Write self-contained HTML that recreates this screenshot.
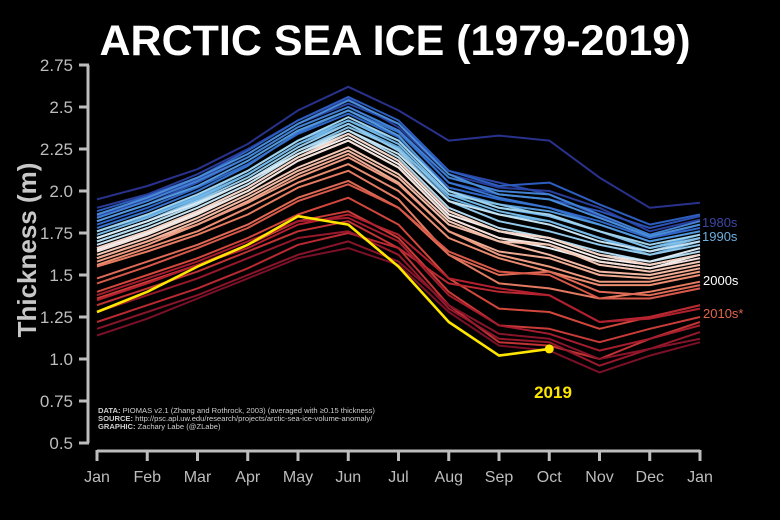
<!DOCTYPE html>
<html><head><meta charset="utf-8"><style>
html,body{margin:0;padding:0;background:#000;width:780px;height:520px;overflow:hidden}
svg{display:block}
text{font-family:"Liberation Sans",sans-serif}
</style></head><body>
<svg id="chart" width="780" height="520" viewBox="0 0 780 520">
<rect width="780" height="520" fill="#000"/>
<text x="395" y="55" text-anchor="middle" fill="#fff" font-size="43" font-weight="bold">ARCTIC SEA ICE (1979-2019)</text>
<text transform="translate(36,250) rotate(-90)" text-anchor="middle" fill="#c8c8c8" font-size="26" font-weight="bold">Thickness (m)</text>
<g id="yaxis"></g>
<g id="xaxis"></g>
<g id="lines"></g>
<g font-size="7.6" fill="#cfcfcf">
<text x="98" y="413"><tspan font-weight="bold">DATA:</tspan> PIOMAS v2.1 (Zhang and Rothrock, 2003) (averaged with ≥0.15 thickness)</text>
<text x="98" y="421"><tspan font-weight="bold">SOURCE:</tspan> http://psc.apl.uw.edu/research/projects/arctic-sea-ice-volume-anomaly/</text>
<text x="98" y="429"><tspan font-weight="bold">GRAPHIC:</tspan> Zachary Labe (@ZLabe)</text>
</g>
<g font-size="13">
<text x="702" y="227" fill="#3d47a3">1980s</text>
<text x="702" y="241" fill="#6ab0e0">1990s</text>
<text x="703" y="285" fill="#ffffff">2000s</text>
<text x="703" y="318" fill="#e2654c">2010s*</text>
</g>
<text x="553" y="398" text-anchor="middle" fill="#ffe600" font-size="17" font-weight="bold">2019</text>
</svg>
<script>
const monthLabels=["Jan","Feb","Mar","Apr","May","Jun","Jul","Aug","Sep","Oct","Nov","Dec","Jan"];
const yTickLabels=["0.5","0.75","1.0","1.25","1.5","1.75","2.0","2.25","2.5","2.75"];
const yTickValues=[0.5,0.75,1.0,1.25,1.5,1.75,2.0,2.25,2.5,2.75];
const years=[1979,1980,1981,1982,1983,1984,1985,1986,1987,1988,1989,1990,1991,1992,1993,1994,1995,1996,1997,1998,1999,2000,2001,2002,2003,2004,2005,2006,2007,2008,2009,2010,2011,2012,2013,2014,2015,2016,2017,2018,2019];
const thickness=[
[1.95,2.03,2.13,2.28,2.48,2.62,2.48,2.30,2.33,2.30,2.08,1.90,1.93],
[1.90,1.98,2.10,2.25,2.42,2.55,2.38,2.10,2.02,2.00,1.90,1.76,1.83],
[1.85,1.95,2.07,2.22,2.40,2.52,2.40,2.12,2.05,1.98,1.85,1.72,1.80],
[1.82,1.92,2.05,2.20,2.38,2.50,2.36,2.05,1.98,1.95,1.88,1.78,1.85],
[1.88,1.97,2.08,2.24,2.42,2.56,2.42,2.12,2.03,2.05,1.92,1.80,1.86],
[1.80,1.90,2.02,2.16,2.34,2.46,2.32,2.02,1.95,1.90,1.82,1.72,1.78],
[1.78,1.88,2.00,2.15,2.35,2.48,2.35,2.05,1.96,1.90,1.80,1.70,1.76],
[1.84,1.94,2.06,2.20,2.38,2.50,2.36,2.08,2.00,1.98,1.86,1.74,1.82],
[1.86,1.96,2.08,2.22,2.40,2.54,2.40,2.10,1.98,1.95,1.84,1.73,1.80],
[1.82,1.92,2.03,2.18,2.36,2.48,2.33,2.00,1.92,1.88,1.80,1.70,1.76],
[1.76,1.85,1.97,2.12,2.30,2.42,2.30,2.00,1.90,1.85,1.76,1.66,1.74],
[1.72,1.82,1.95,2.10,2.28,2.40,2.26,1.96,1.86,1.82,1.72,1.62,1.70],
[1.74,1.84,1.96,2.10,2.28,2.42,2.28,1.98,1.88,1.82,1.72,1.64,1.72],
[1.70,1.80,1.92,2.06,2.24,2.38,2.25,1.98,1.92,1.85,1.76,1.66,1.72],
[1.72,1.82,1.94,2.08,2.26,2.40,2.24,1.94,1.82,1.76,1.68,1.62,1.68],
[1.76,1.86,1.98,2.12,2.30,2.44,2.30,2.00,1.90,1.86,1.76,1.68,1.74],
[1.70,1.80,1.92,2.06,2.24,2.36,2.20,1.90,1.78,1.72,1.64,1.58,1.64],
[1.68,1.78,1.90,2.04,2.22,2.36,2.22,1.94,1.86,1.80,1.70,1.64,1.70],
[1.72,1.82,1.93,2.06,2.22,2.34,2.18,1.88,1.76,1.72,1.62,1.58,1.66],
[1.65,1.75,1.87,2.00,2.18,2.30,2.14,1.84,1.72,1.66,1.58,1.54,1.62],
[1.66,1.76,1.88,2.02,2.20,2.32,2.16,1.86,1.76,1.70,1.60,1.56,1.62],
[1.64,1.74,1.86,2.00,2.18,2.30,2.14,1.84,1.72,1.68,1.58,1.54,1.60],
[1.66,1.76,1.88,2.02,2.20,2.34,2.18,1.88,1.76,1.72,1.62,1.56,1.62],
[1.62,1.72,1.84,1.98,2.14,2.26,2.10,1.82,1.70,1.68,1.56,1.52,1.58],
[1.60,1.70,1.82,1.96,2.12,2.24,2.08,1.80,1.70,1.62,1.52,1.50,1.56],
[1.60,1.70,1.80,1.94,2.10,2.22,2.05,1.76,1.64,1.60,1.50,1.48,1.54],
[1.58,1.68,1.80,1.93,2.08,2.20,2.04,1.76,1.62,1.55,1.46,1.46,1.52],
[1.56,1.66,1.76,1.90,2.05,2.16,2.00,1.72,1.60,1.52,1.44,1.44,1.50],
[1.55,1.64,1.74,1.86,2.02,2.12,1.95,1.62,1.45,1.42,1.36,1.40,1.46],
[1.48,1.58,1.68,1.80,1.96,2.06,1.90,1.62,1.50,1.52,1.40,1.38,1.44],
[1.45,1.55,1.66,1.78,1.94,2.04,1.90,1.64,1.52,1.50,1.36,1.36,1.42],
[1.40,1.50,1.60,1.72,1.86,1.96,1.80,1.48,1.30,1.28,1.18,1.25,1.32],
[1.36,1.46,1.56,1.68,1.82,1.88,1.72,1.40,1.20,1.18,1.10,1.18,1.25],
[1.32,1.42,1.52,1.64,1.76,1.82,1.66,1.32,1.10,1.08,1.00,1.12,1.22],
[1.22,1.32,1.42,1.54,1.68,1.75,1.66,1.45,1.40,1.38,1.22,1.25,1.32],
[1.35,1.45,1.56,1.66,1.80,1.86,1.74,1.48,1.42,1.38,1.22,1.24,1.30],
[1.38,1.48,1.58,1.70,1.82,1.84,1.70,1.38,1.20,1.15,1.05,1.12,1.20],
[1.28,1.38,1.48,1.60,1.72,1.76,1.62,1.30,1.12,1.10,0.96,1.06,1.16],
[1.18,1.28,1.38,1.50,1.62,1.70,1.58,1.32,1.15,1.12,1.00,1.06,1.12],
[1.14,1.24,1.36,1.48,1.60,1.66,1.56,1.28,1.08,1.05,0.92,1.02,1.10],
[1.28,1.40,1.55,1.68,1.85,1.80,1.55,1.22,1.02,1.06]
];
const NS="http://www.w3.org/2000/svg";
const X0=97,X1=700,Y0=443,Y1=65,VMIN=0.5,VMAX=2.75;
function xs(m){return X0+(X1-X0)*m/12;}
function ys(v){return Y0-(Y0-Y1)*(v-VMIN)/(VMAX-VMIN);}
function mk(tag,attrs,parent){const e=document.createElementNS(NS,tag);for(const k in attrs)e.setAttribute(k,attrs[k]);parent.appendChild(e);return e;}
const stops=[[0,[40,50,140]],[0.12,[45,100,200]],[0.27,[95,170,225]],[0.4,[170,215,238]],[0.5,[245,245,245]],[0.6,[244,194,174]],[0.7,[232,135,106]],[0.8,[208,68,58]],[0.9,[176,31,46]],[1,[122,16,40]]];
function col(t){for(let i=1;i<stops.length;i++){if(t<=stops[i][0]){const a=stops[i-1],b=stops[i],f=(t-a[0])/(b[0]-a[0]);const c=a[1].map((v,j)=>Math.round(v+(b[1][j]-v)*f));return `rgb(${c.join(',')})`;}}return 'rgb(122,16,40)';}
const ya=document.getElementById('yaxis');
const sp=mk('line',{x1:88,y1:Y1,x2:88,y2:Y0,stroke:'#bdbdbd','stroke-width':3},ya);


yTickValues.forEach((v,i)=>{
 const t=mk('line',{x1:79,x2:89,y1:ys(v),y2:ys(v),stroke:'#bdbdbd','stroke-width':3},ya);
 
 
 const l=mk('text',{x:73,y:ys(v)+6,'text-anchor':'end',fill:'#bdbdbd','font-size':17},ya);
 l.textContent=yTickLabels[i];
 
 
});
const xa=document.getElementById('xaxis');
const xs0=mk('line',{x1:X0,y1:451,x2:X1,y2:451,stroke:'#bdbdbd','stroke-width':3},xa);


monthLabels.forEach((m,i)=>{
 const t=mk('line',{x1:xs(i),x2:xs(i),y1:450,y2:461,stroke:'#bdbdbd','stroke-width':3},xa);
 
 
 const l=mk('text',{x:xs(i),y:482,'text-anchor':'middle',fill:'#bdbdbd','font-size':16},xa);
 l.textContent=m;
 
 
});
const lg=document.getElementById('lines');
thickness.forEach((arr,i)=>{
 const yr=years[i];
 const is19=yr===2019;
 const pts=arr.map((v,m)=>xs(m).toFixed(1)+','+ys(v).toFixed(1)).join(' ');
 const p=mk('polyline',{points:pts,fill:'none',stroke:is19?'#ffe600':col((yr-1979)/39),'stroke-width':is19?2.6:2,'stroke-linejoin':'round'},lg);
 
 
 if(is19){
  const last=arr.length-1;
  const d=mk('circle',{cx:xs(last),cy:ys(arr[last]),r:4.5,fill:'#ffe600'},lg);
  
  
 }
});
</script>
</body></html>
